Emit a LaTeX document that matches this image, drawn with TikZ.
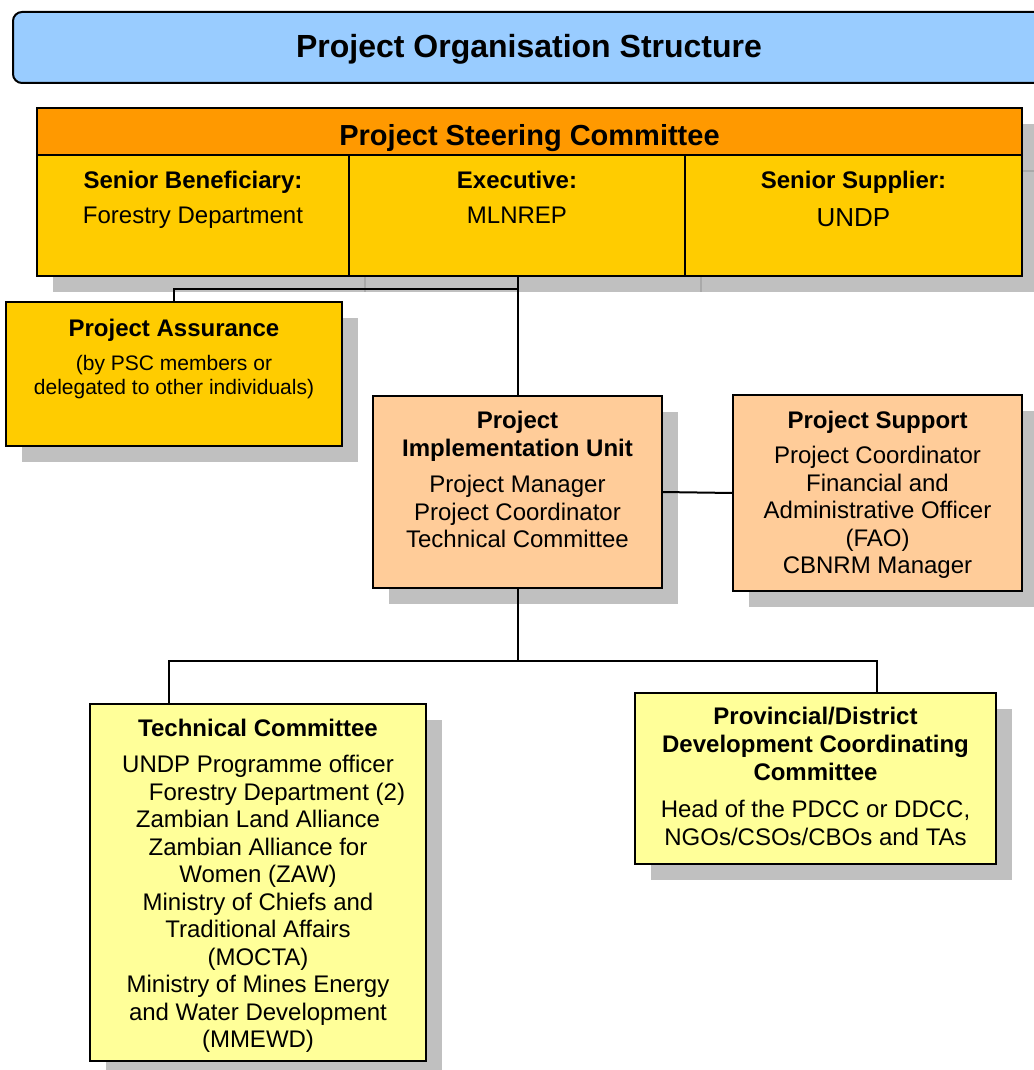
\documentclass[tikz,border=0pt]{standalone}
\usepackage{fontspec}
\setmainfont{Liberation Sans}
\definecolor{titleblue}{HTML}{99CCFF}
\definecolor{hdorange}{HTML}{FF9900}
\definecolor{gold}{HTML}{FFCC00}
\definecolor{peach}{HTML}{FFCC99}
\definecolor{paleyellow}{HTML}{FFFF99}
\definecolor{shadowgray}{HTML}{C0C0C0}
\definecolor{ghostgray}{HTML}{A9A9A9}
\begin{document}
\begin{tikzpicture}[x=1pt,y=-1pt,
  box/.style={draw=black, line width=2pt, inner sep=0pt, outer sep=0pt, anchor=north west},
  shad/.style={fill=shadowgray},
  ghost/.style={draw=ghostgray, line width=2pt},
  hd/.style={font=\bfseries\fontsize{24}{28}\selectfont, align=center, inner sep=0pt, anchor=north},
  bd/.style={font=\fontsize{24}{27.5}\selectfont, align=center, inner sep=0pt, anchor=north},
  link/.style={line width=2pt, draw=black}]
\useasboundingbox[fill=white] (0,0) rectangle (1033,1070);

% shadows
\fill[shad] (53,124) rectangle (1038,292);
\fill[shad] (22,318) rectangle (358,462);
\fill[shad] (389,412) rectangle (678,604);
\fill[shad] (749,411) rectangle (1038,607);
\fill[shad] (106,720) rectangle (442,1077);
\fill[shad] (651,709) rectangle (1012,880);
\draw[ghost] (365,277) -- (365,292);
\draw[ghost] (701,277) -- (701,292);
\draw[ghost] (1023,171) -- (1038,171);

% title
\node[box, rounded corners=9pt, fill=titleblue, minimum width=1032pt, minimum height=71pt] (title) at (13,12) {};
\node[font=\bfseries\fontsize{32}{36}\selectfont, inner sep=0pt, anchor=north] (titletext) at (529,34) {Project Organisation Structure};

% steering committee
\node[box, fill=gold, minimum width=985pt, minimum height=168pt] (psc) at (37,108) {};
\node[box, fill=hdorange, minimum width=985pt, minimum height=47pt] (psch) at (37,108) {};
\node[box, fill=gold, minimum width=312pt, minimum height=121pt] (col1) at (37,155) {};
\node[box, fill=gold, minimum width=336pt, minimum height=121pt] (col2) at (349,155) {};
\node[box, fill=gold, minimum width=337pt, minimum height=121pt] (col3) at (685,155) {};
\node[font=\bfseries\fontsize{29}{33}\selectfont, inner sep=0pt, anchor=north] (pschtext) at (529.5,124) {Project Steering Committee};
\node[hd] (c1h) at (193,171) {Senior Beneficiary:};
\node[bd] (c1b) at (193,207) {Forestry Department};
\node[hd] (c2h) at (517,171) {Executive:};
\node[bd] (c2b) at (517,207) {MLNREP};
\node[hd] (c3h) at (853.5,171) {Senior Supplier:};
\node[bd, font=\fontsize{26}{30}\selectfont] (c3b) at (853.5,208) {UNDP};

% project assurance
\node[box, fill=gold, minimum width=336pt, minimum height=144pt] (pa) at (6,302) {};
\node[hd] (pah) at (174,319) {Project Assurance};
\node[bd, font=\fontsize{21}{24.5}\selectfont] (pab) at (174,355) {(by PSC members or\\delegated to other individuals)};

% project implementation unit
\node[box, fill=peach, minimum width=289pt, minimum height=192pt] (piu) at (373,396) {};
\node[hd] (piuh) at (517.5,411) {Project\\Implementation Unit};
\node[bd] (piub) at (517.5,475) {Project Manager\\Project Coordinator\\Technical Committee};

% project support
\node[box, fill=peach, minimum width=289pt, minimum height=196pt] (ps) at (733,395) {};
\node[hd] (psh) at (877.5,411) {Project Support};
\node[bd] (psb) at (877.5,446) {Project Coordinator\\Financial and\\Administrative Officer\\(FAO)\\CBNRM Manager};

% technical committee
\node[box, fill=paleyellow, minimum width=336pt, minimum height=357pt] (tc) at (90,704) {};
\node[hd] (tch) at (258,719) {Technical Committee};
\node[bd] (tcb) at (258,755) {UNDP Programme officer\\\hspace*{38pt}Forestry Department (2)\\Zambian Land Alliance\\Zambian Alliance for\\Women (ZAW)\\Ministry of Chiefs and\\Traditional Affairs\\(MOCTA)\\Ministry of Mines Energy\\and Water Development\\(MMEWD)};

% PDCC
\node[box, fill=paleyellow, minimum width=361pt, minimum height=171pt] (pdcc) at (635,693) {};
\node[hd] (pdcch) at (815.5,707) {Provincial/District\\Development Coordinating\\Committee};
\node[bd] (pdccb) at (815.5,800) {Head of the PDCC or DDCC,\\NGOs/CSOs/CBOs and TAs};

% connectors
\coordinate (j1) at (517.5,289);
\coordinate (j2) at (517.5,661);
\coordinate (tcin) at (169,704);
\coordinate (pdin) at (877,693);
\draw[link] (piu.north |- psc.south) -- (piu.north);
\draw[link] (j1) -| (pa.north);
\draw[link] (piu.east) -- (ps.west);
\draw[link] (piu.south) -- (j2);
\draw[link] (tcin) |- (j2) -| (pdin);
\end{tikzpicture}
\end{document}
